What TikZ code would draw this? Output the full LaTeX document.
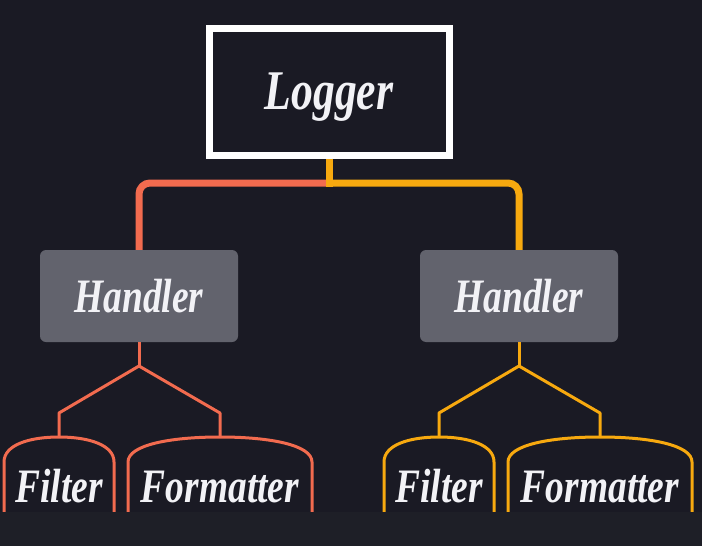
\documentclass[tikz,border=0pt]{standalone}
\usepackage{fontspec}
\usepackage{tikz}
\newfontfamily\labelfont[FakeStretch=0.78]{Liberation Serif}

\definecolor{bgdark}{HTML}{1A1A24}
\definecolor{bandgray}{HTML}{1E1F27}
\definecolor{handgray}{HTML}{62636D}
\definecolor{textwhite}{HTML}{F2F2F6}
\definecolor{orangeline}{HTML}{F26B4F}
\definecolor{yellowline}{HTML}{F7A90F}

\tikzset{
    logbox/.style = {draw = white, line width = 7pt, minimum width = 240pt, minimum height = 127pt,
        text = textwhite, text depth = 0pt, font = \labelfont\bfseries\itshape\fontsize{56}{56}\selectfont},
    handbox/.style = {fill = handgray, rounded corners = 6pt, minimum width = 198pt, minimum height = 92pt,
        text = textwhite, text depth = 0pt, font = \labelfont\bfseries\itshape\fontsize{48}{48}\selectfont},
    partlbl/.style = {anchor = base, inner sep = 0pt, text = textwhite,
        font = \labelfont\bfseries\itshape\fontsize{48}{48}\selectfont},
    trunk/.style = {line width = 7pt, rounded corners = 11pt},
    branch/.style = {line width = 3pt}
}

\begin{document}
\begin{tikzpicture}[x = 1pt, y = -1pt]
        \useasboundingbox (0,0) rectangle (702,546);
        \fill[bgdark] (0,0) rectangle (702,546);

        % logger and handlers
        \node[logbox] (lg) at (329,91.5) {Logger};
        \node[handbox] (hl) at (139,296) {Handler};
        \node[handbox] (hr) at (519,296) {Handler};

        \coordinate (jn) at (329,183);
        \coordinate (jb) at (329,186.5);
        \draw[trunk, orangeline] (jn) -| (hl.north);
        \draw[trunk, yellowline] (jn) -| (hr.north);
        \draw[line width = 7pt, yellowline] (lg.south) -- (jb);

        % filter and formatter labels
        \node[partlbl] (fl) at (59,502) {Filter};
        \node[partlbl] (fml) at (220,502) {Formatter};
        \node[partlbl] (fr) at (439,502) {Filter};
        \node[partlbl] (fmr) at (600,502) {Formatter};

        \coordinate (lfork) at (139,366);
        \coordinate (rfork) at (519,366);
        \coordinate (lfilt) at (59,437);
        \coordinate (lform) at (220,437);
        \coordinate (rfilt) at (439,437);
        \coordinate (rform) at (600,437);

        \draw[branch, orangeline] (hl.south) -- (lfork);
        \draw[branch, orangeline, line join = round] (lfilt) -- ++(0,-24) -- (lfork) -- ++(81,47) -- (lform);
        \draw[branch, yellowline] (hr.south) -- (rfork);
        \draw[branch, yellowline, line join = round] (rfilt) -- ++(0,-24) -- (rfork) -- ++(81,47) -- (rform);

        % cups round the labels
        \draw[branch, orangeline] (4,512) -- (4,462) .. controls +(0,-17) and +(-30,0) .. (lfilt) .. controls +(30,0) and +(0,-17) .. (114,462) -- (114,512);
        \draw[branch, orangeline] (128,512) -- (128,462) .. controls +(0,-17) and +(-50,0) .. (lform) .. controls +(50,0) and +(0,-17) .. (312,462) -- (312,512);
        \draw[branch, yellowline] (384,512) -- (384,462) .. controls +(0,-17) and +(-30,0) .. (rfilt) .. controls +(30,0) and +(0,-17) .. (494,462) -- (494,512);
        \draw[branch, yellowline] (508,512) -- (508,462) .. controls +(0,-17) and +(-50,0) .. (rform) .. controls +(50,0) and +(0,-17) .. (692,462) -- (692,512);

        \fill[bandgray] (0,512) rectangle (702,546);
\end{tikzpicture}
\end{document}
